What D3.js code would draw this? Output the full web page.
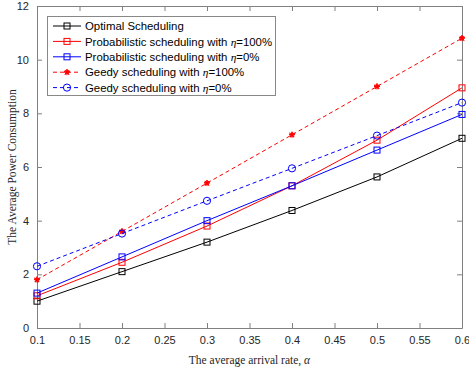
<!DOCTYPE html>
<html>
<head>
<meta charset="utf-8">
<script src="https://cdn.jsdelivr.net/npm/d3@7"></script>
<style>
  body { margin: 0; background: #fff; }
  .tick text { font-family: "Liberation Sans", Arial, sans-serif; font-size: 11px; fill: #262626; }
  .legend text { font-family: "Liberation Sans", Arial, sans-serif; font-size: 11.4px; fill: #000; }
  .label { font-family: "Liberation Serif", "Times New Roman", serif; font-size: 11.5px; fill: #262626; }
</style>
</head>
<body>
<div id="chart"></div>
<script>
// arrival rates on the x axis
const rates = [0.1, 0.2, 0.3, 0.4, 0.5, 0.6];
const xTicks = [0.1, 0.15, 0.2, 0.25, 0.3, 0.35, 0.4, 0.45, 0.5, 0.55, 0.6];
const yTicks = [0, 2, 4, 6, 8, 10, 12];

// series values
const optimal = [1.0, 2.1, 3.2, 4.38, 5.63, 7.07];
const probFull = [1.2, 2.45, 3.8, 5.3, 7.0, 8.95];
const probZero = [1.3, 2.65, 4.0, 5.3, 6.63, 7.96];
const greedyFull = [1.8, 3.6, 5.4, 7.2, 9.0, 10.8];
const greedyZero = [2.3, 3.52, 4.74, 5.95, 7.17, 8.4];

const series = [
  { name: 'Optimal Scheduling', eta: null, values: optimal, color: '#000000', dash: null, marker: 'square' },
  { name: 'Probabilistic scheduling with ', eta: '=100%', values: probFull, color: '#ff0000', dash: null, marker: 'square' },
  { name: 'Probabilistic scheduling with ', eta: '=0%', values: probZero, color: '#0000ff', dash: null, marker: 'square' },
  { name: 'Geedy scheduling with ', eta: '=100%', values: greedyFull, color: '#ff0000', dash: '4,3', marker: 'star' },
  { name: 'Geedy scheduling with ', eta: '=0%', values: greedyZero, color: '#0000ff', dash: '4,3', marker: 'circle' }
];

const W = 469, H = 373;
const margin = { top: 6, right: 7, bottom: 45, left: 37 };
const width = W - margin.left - margin.right;
const height = H - margin.top - margin.bottom;

const svg = d3.select('#chart').append('svg')
  .attr('width', W).attr('height', H);

const g = svg.append('g')
  .attr('transform', `translate(${margin.left},${margin.top})`);

const x = d3.scaleLinear().domain([0.1, 0.6]).range([0, width]);
const y = d3.scaleLinear().domain([0, 12]).range([height, 0]);

const axisColor = '#808080';

// axes with inward ticks, box on all four sides
const axisB = g.append('g').attr('transform', `translate(0,${height})`)
  .call(d3.axisBottom(x).tickValues(xTicks).tickSizeInner(-5).tickSizeOuter(0).tickPadding(8)
    .tickFormat(d => String(+d.toFixed(2))));
const axisL = g.append('g')
  .call(d3.axisLeft(y).tickValues(yTicks).tickSizeInner(-5).tickSizeOuter(0).tickPadding(8));
const axisT = g.append('g')
  .call(d3.axisTop(x).tickValues(xTicks).tickSizeInner(-5).tickSizeOuter(0).tickFormat(''));
const axisR = g.append('g').attr('transform', `translate(${width},0)`)
  .call(d3.axisRight(y).tickValues(yTicks).tickSizeInner(-5).tickSizeOuter(0).tickFormat(''));
[axisB, axisL, axisT, axisR].forEach(a => {
  a.selectAll('path, line').attr('stroke', axisColor);
});

// lines
const line = d3.line().x((d, i) => x(rates[i])).y(d => y(d));

function drawMarker(sel, type, color, cx, cy) {
  if (type === 'square') {
    sel.append('rect')
      .attr('x', cx - 3).attr('y', cy - 3)
      .attr('width', 6).attr('height', 6)
      .attr('fill', 'none').attr('stroke', color).attr('stroke-width', 1);
  } else if (type === 'circle') {
    sel.append('circle')
      .attr('cx', cx).attr('cy', cy).attr('r', 3.6)
      .attr('fill', 'none').attr('stroke', color).attr('stroke-width', 1);
  } else {
    sel.append('path')
      .attr('transform', `translate(${cx},${cy})`)
      .attr('d', d3.symbol(d3.symbolStar, 10)())
      .attr('fill', color).attr('stroke', color).attr('stroke-width', 0.8);
    sel.append('path')
      .attr('transform', `translate(${cx},${cy})`)
      .attr('d', 'M-3,0H3M0,-3V3M-2.2,-2.2L2.2,2.2M-2.2,2.2L2.2,-2.2')
      .attr('stroke', color).attr('stroke-width', 1);
  }
}

series.forEach(s => {
  g.append('path')
    .datum(s.values)
    .attr('d', line)
    .attr('fill', 'none')
    .attr('stroke', s.color)
    .attr('stroke-width', 1)
    .attr('stroke-dasharray', s.dash);
  const mg = g.append('g');
  s.values.forEach((v, i) => drawMarker(mg, s.marker, s.color, x(rates[i]), y(v)));
});

// legend
const legend = svg.append('g').attr('class', 'legend');
legend.append('rect')
  .attr('x', 47.5).attr('y', 16.5).attr('width', 228).attr('height', 79)
  .attr('fill', '#fff').attr('stroke', '#888').attr('stroke-width', 1);

series.forEach((s, i) => {
  const ly = 26 + i * 15.4;
  legend.append('line')
    .attr('x1', 53).attr('x2', 81).attr('y1', ly).attr('y2', ly)
    .attr('stroke', s.color).attr('stroke-width', 1)
    .attr('stroke-dasharray', s.dash);
  drawMarker(legend, s.marker, s.color, 67, ly);
  const t = legend.append('text').attr('x', 85).attr('y', ly + 4.2);
  t.append('tspan').text(s.name);
  if (s.eta) {
    t.append('tspan').text('η')
      .style('font-family', '"Liberation Serif", serif')
      .style('font-style', 'italic');
    t.append('tspan').text(s.eta);
  }
});

// axis labels
svg.append('text').attr('class', 'label')
  .attr('x', margin.left + width / 2).attr('y', 364)
  .attr('text-anchor', 'middle')
  .text('The average arrival rate, ')
  .append('tspan').style('font-style', 'italic').text('α');

svg.append('text').attr('class', 'label')
  .attr('transform', `translate(16,${margin.top + height / 2}) rotate(-90)`)
  .attr('text-anchor', 'middle')
  .text('The Average Power Consumption');
</script>
</body>
</html>
